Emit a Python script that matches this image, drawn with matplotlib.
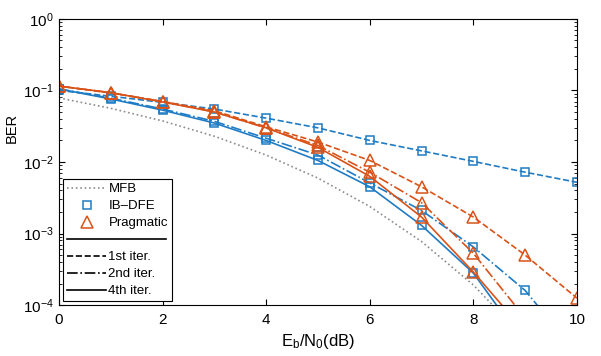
import numpy as np
import matplotlib
matplotlib.use('Agg')
import matplotlib.pyplot as plt
from matplotlib.lines import Line2D
from matplotlib.legend_handler import HandlerBase

plt.rcParams['font.family'] = ['Liberation Sans', 'DejaVu Sans']
plt.rcParams['mathtext.fontset'] = 'custom'
plt.rcParams['mathtext.rm'] = 'Liberation Sans'
plt.rcParams['mathtext.it'] = 'Liberation Sans:italic'

# Eb/N0 (dB)
snr = [0, 1, 2, 3, 4, 5, 6, 7, 8, 9, 10]

# BER values
mfb = [0.0786, 0.0563, 0.0375, 0.0229, 0.0125, 0.00595, 0.00239, 0.000773, 0.000191, 3.36e-5, 3.87e-6]

ibdfe_1st = [0.100, 0.083, 0.068, 0.055, 0.041, 0.030, 0.020, 0.0143, 0.0102, 0.0072, 0.0052]
ibdfe_2nd = [0.105, 0.078, 0.055, 0.037, 0.0215, 0.0125, 0.0051, 0.0021, 0.00065, 0.00016, 2.1e-5]
ibdfe_4th = [0.105, 0.076, 0.053, 0.035, 0.020, 0.0105, 0.0045, 0.0013, 0.00028, 2.8e-5, 1e-6]

prag_1st = [0.115, 0.092, 0.070, 0.052, 0.031, 0.019, 0.0105, 0.0045, 0.0017, 0.0005, 0.000125]
prag_2nd = [0.115, 0.093, 0.070, 0.050, 0.030, 0.017, 0.0072, 0.0027, 0.00053, 6.6e-5, 1e-6]
prag_4th = [0.115, 0.093, 0.069, 0.050, 0.030, 0.016, 0.0063, 0.0017, 0.00029, 4.2e-5, 1e-6]

blue = '#1f7cc4'
orange = '#D95319'


class SepHandler(HandlerBase):
    # long separator line across the legend, like the MATLAB original
    def create_artists(self, legend, orig_handle, xdescent, ydescent,
                       width, height, fontsize, trans):
        ln = Line2D([-xdescent, width * 2.5], [height / 2, height / 2],
                    color='k', lw=1.2, transform=trans)
        return [ln]


fig = plt.figure(figsize=(6.01, 3.56), dpi=100)
ax = fig.add_axes([0.098, 0.143, 0.862, 0.804])

ax.semilogy(snr, mfb, ':', color='#8c8c8c', lw=1.2)

ax.semilogy(snr, ibdfe_1st, '--', color=blue, lw=1.2, marker='s', ms=6, mfc='none', mew=1.1)
ax.semilogy(snr, ibdfe_2nd, '-.', color=blue, lw=1.2, marker='s', ms=6, mfc='none', mew=1.1)
ax.semilogy(snr, ibdfe_4th, '-', color=blue, lw=1.2, marker='s', ms=6, mfc='none', mew=1.1)

ax.semilogy(snr, prag_1st, '--', color=orange, lw=1.2, marker='^', ms=8, mfc='none', mew=1.1)
ax.semilogy(snr, prag_2nd, '-.', color=orange, lw=1.2, marker='^', ms=8, mfc='none', mew=1.1)
ax.semilogy(snr, prag_4th, '-', color=orange, lw=1.2, marker='^', ms=8, mfc='none', mew=1.1)

ax.set_xlim(0, 10)
ax.set_ylim(1e-4, 1)
ax.set_xticks([0, 2, 4, 6, 8, 10])
ax.tick_params(which='both', direction='in', top=True, right=True, labelsize=11)
ax.tick_params(axis='x', pad=6)
ax.tick_params(which='major', length=4)
ax.tick_params(which='minor', length=2)
ax.set_xlabel(r'$\mathregular{E_b/N_0}$(dB)', fontsize=12, labelpad=3)
ax.set_ylabel('BER', fontsize=10.5)
ax.yaxis.set_label_coords(-0.078, 0.62)

h_mfb = Line2D([], [], ls=':', color='#8c8c8c', lw=1.2)
h_ib = Line2D([], [], ls='none', marker='s', ms=6, mfc='none', mec=blue, mew=1.1)
h_pr = Line2D([], [], ls='none', marker='^', ms=8, mfc='none', mec=orange, mew=1.1)
h_sep = Line2D([], [], color='k')
h_1 = Line2D([], [], ls='--', color='k', lw=1.2)
h_2 = Line2D([], [], ls='-.', color='k', lw=1.2)
h_4 = Line2D([], [], ls='-', color='k', lw=1.2)

leg = ax.legend([h_mfb, h_ib, h_pr, h_sep, h_1, h_2, h_4],
                ['MFB', 'IB\u2013DFE', 'Pragmatic', ' ', '1st iter.', '2nd iter.', '4th iter.'],
                handler_map={h_sep: SepHandler()},
                loc='lower left', fontsize=9.5, handlelength=3.0, handletextpad=0.15,
                labelspacing=0.36, borderaxespad=0.3, borderpad=0.3, fancybox=False,
                edgecolor='k', framealpha=1, numpoints=1)
leg.get_frame().set_linewidth(0.8)

fig.savefig('out.png', dpi=100)
